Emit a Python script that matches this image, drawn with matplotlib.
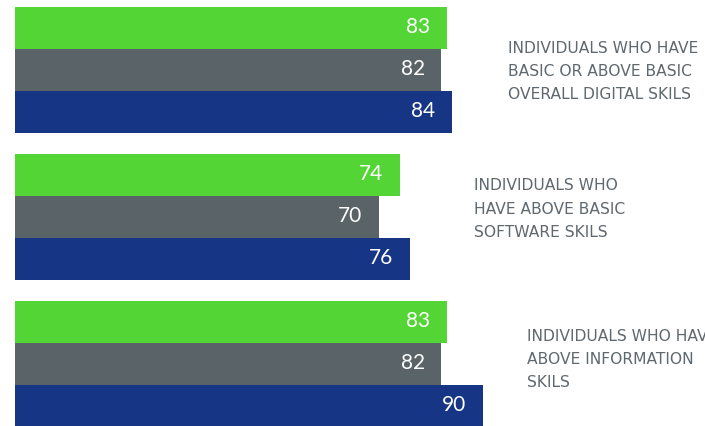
import matplotlib
matplotlib.use("Agg")
import matplotlib.pyplot as plt

# данные: 3 группы x 3 ряда (зелёный, серый, синий)
groups = [
    "INDIVIDUALS WHO HAVE\nBASIC OR ABOVE BASIC\nOVERALL DIGITAL SKILS",
    "INDIVIDUALS WHO\nHAVE ABOVE BASIC\nSOFTWARE SKILS",
    "INDIVIDUALS WHO HAVE\nABOVE INFORMATION\nSKILS",
]
green_vals = [83, 74, 83]
gray_vals = [82, 70, 82]
navy_vals = [84, 76, 90]

COLORS = ["#53D536", "#5A6368", "#163584"]
PITCH = 3.5          # шаг групп в высотах столбика
LABEL_X = [94.8, 88.3, 98.5]
LABEL_Y = [1.54, 4.81, 8.40]

fig = plt.figure(figsize=(7.05, 4.26), dpi=100)
ax = fig.add_axes([0, 0, 1, 1])

series = [green_vals, gray_vals, navy_vals]
for g in range(len(groups)):
    for k, vals in enumerate(series):
        y = g * PITCH + k + 0.5
        ax.barh(y, vals[g], height=1.0, color=COLORS[k], linewidth=0)
        ax.text(vals[g] - 3.2, y - 0.03, str(vals[g]), color="white",
                fontsize=15, family="Lato", ha="right", va="center")
    # подписи групп справа; у третьей хвост обрезан краем, как в оригинале
    ax.text(LABEL_X[g], LABEL_Y[g], groups[g], color="#5F686E",
            fontsize=11.2, family="DejaVu Sans", ha="left", va="center",
            linespacing=1.68, clip_on=True)

ax.set_xlim(-15 / 5.2, 690 / 5.2)
ax.set_ylim((426 - 7) / 42, -7 / 42)
ax.axis("off")

fig.savefig("out.png", dpi=100)
